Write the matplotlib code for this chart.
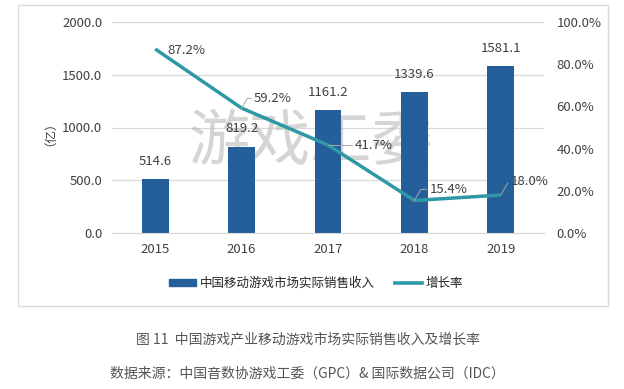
import matplotlib
matplotlib.use("Agg")
import matplotlib.pyplot as plt
from matplotlib.patches import Rectangle
from matplotlib.lines import Line2D

plt.rcParams['font.family'] = ['Noto Sans CJK SC', 'DejaVu Sans']

years = ["2015", "2016", "2017", "2018", "2019"]
revenue = [514.6, 819.2, 1161.2, 1339.6, 1581.1]
growth = [87.2, 59.2, 41.7, 15.4, 18.0]
revenue_ticks = [0, 500, 1000, 1500, 2000]
growth_ticks = [0, 20, 40, 60, 80, 100]

BAR_COLOR = "#255f99"
LINE_COLOR = "#2f98a6"
GRID_COLOR = "#d9d9d9"
TEXT_COLOR = "#404040"

fig = plt.figure(figsize=(6.24, 3.89), dpi=100)
W, H = 624, 389

# outer chart frame
fig.patches.append(Rectangle((18 / W, 1 - 306 / H), 590 / W, 301 / H,
                             transform=fig.transFigure, fill=False,
                             edgecolor="#d9d9d9", linewidth=1.0))

ax = fig.add_axes([112 / W, 1 - 233 / H, 432 / W, 211 / H])
ax.patch.set_visible(False)
x = list(range(len(years)))

# watermark, behind the bars
ax.text(311 / W, 1 - 143 / H, "游戏工委", fontsize=44, color="#b4b4b4",
        alpha=0.55, ha="center", va="center", zorder=1,
        transform=fig.transFigure)

ax.bar(x, revenue, width=0.31, color=BAR_COLOR, zorder=2)
ax.set_xlim(-0.5, len(years) - 0.5)
ax.set_ylim(0, 2000)
ax.set_yticks(revenue_ticks)
ax.set_yticklabels([f"{v:.1f}" for v in revenue_ticks])
ax.set_xticks(x)
ax.set_xticklabels(years)
ax.grid(axis="y", color=GRID_COLOR, linewidth=0.9, zorder=0)
ax.set_axisbelow(True)
for s in ["top", "right", "left"]:
    ax.spines[s].set_visible(False)
ax.spines["bottom"].set_color(GRID_COLOR)
ax.tick_params(axis="both", length=0, labelsize=9.5, colors=TEXT_COLOR)
ax.tick_params(axis="x", pad=7)
ax.tick_params(axis="y", pad=7)
ax.set_ylabel("（亿）", fontsize=9, color=TEXT_COLOR, labelpad=9)

for xi, v in zip(x, revenue):
    ax.annotate(f"{v:.1f}", (xi, v), xytext=(0, 8), textcoords="offset points",
                ha="center", va="bottom", fontsize=9.5, color=TEXT_COLOR,
                zorder=3)

ax2 = ax.twinx()
ax2.plot(x, growth, color=LINE_COLOR, linewidth=2.5, zorder=3,
         solid_capstyle="butt")
ax2.set_ylim(0, 100)
ax2.set_yticks(growth_ticks)
ax2.set_yticklabels([f"{v:.1f}%" for v in growth_ticks])
for s in ["top", "right", "left", "bottom"]:
    ax2.spines[s].set_visible(False)
ax2.tick_params(axis="y", length=0, labelsize=9.5, colors=TEXT_COLOR, pad=9)

label_offsets = [(9, -1), (9, 7), (19, 0), (11, 8), (7, 10)]
for xi, g, (dx, dy) in zip(x, growth, label_offsets):
    ax2.annotate(f"{g:.1f}%", (xi, g), xytext=(dx, dy), textcoords="offset points",
                 ha="left", va="center", fontsize=9.5, color=TEXT_COLOR,
                 arrowprops=dict(arrowstyle="-", color="#a6a6a6", lw=0.7,
                                 shrinkA=0, shrinkB=0,
                                 connectionstyle="angle,angleA=0,angleB=60,rad=0")
                 if xi > 0 else None)

handles = [Rectangle((0, 0), 1, 1, color=BAR_COLOR),
           Line2D([0], [0], color=LINE_COLOR, linewidth=2.6)]
fig.legend(handles, ["中国移动游戏市场实际销售收入", "增长率"],
           loc="center", bbox_to_anchor=(316 / W, 1 - 283 / H), ncol=2,
           frameon=False, fontsize=9, handlelength=2.2, handleheight=0.5,
           columnspacing=1.6, handletextpad=0.3, labelcolor="#262626")

fig.text(308 / W, 1 - 339 / H, "图 11  中国游戏产业移动游戏市场实际销售收入及增长率",
         ha="center", va="center", fontsize=10, color="#555555")
fig.text(110 / W, 1 - 374 / H, "数据来源：中国音数协游戏工委（GPC）& 国际数据公司（IDC）",
         ha="left", va="center", fontsize=10, color="#555555")

fig.savefig("out.png", dpi=100, facecolor="white")
